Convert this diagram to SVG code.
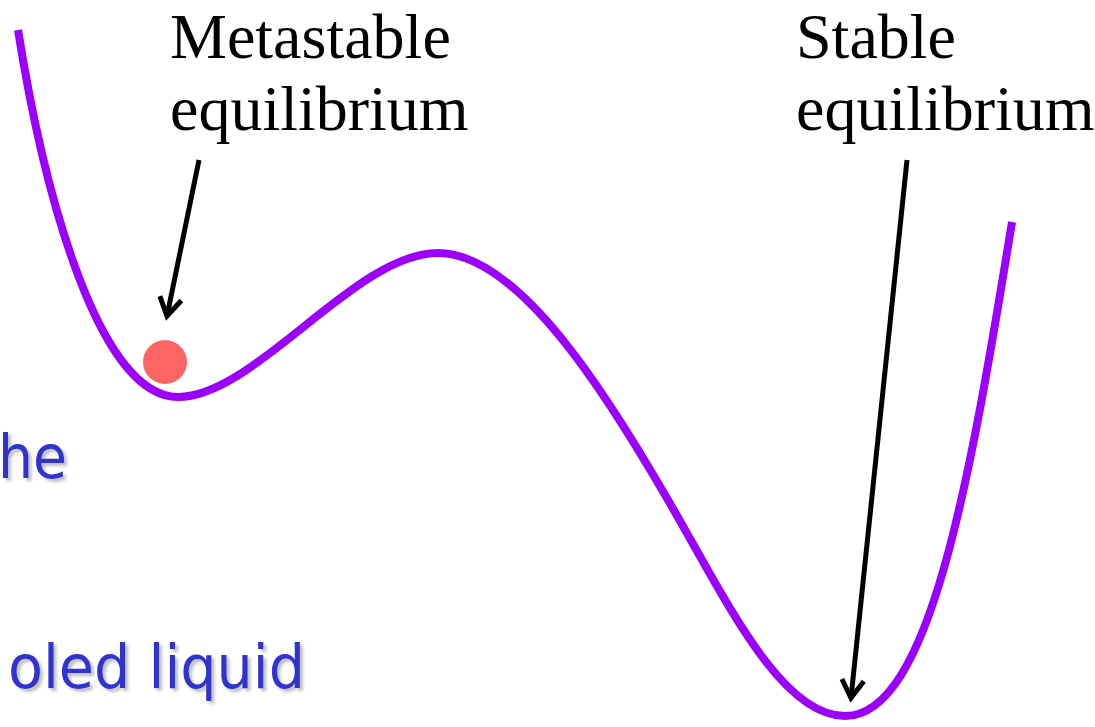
<svg xmlns="http://www.w3.org/2000/svg" width="1095" height="727" viewBox="0 0 1095 727">
  <defs>
    <marker id="chev" viewBox="-20 -12 22 24" refX="0" refY="0" markerWidth="22" markerHeight="24" markerUnits="userSpaceOnUse" orient="auto" overflow="visible">
      <path d="M-18,-11 L0,0 L-18,11" fill="none" stroke="#000" stroke-width="5" stroke-linejoin="miter" stroke-linecap="butt"/>
    </marker>
    <filter id="shadow" x="-10%" y="-20%" width="130%" height="150%">
      <feDropShadow dx="3" dy="3" stdDeviation="1.5" flood-color="#000" flood-opacity="0.25"/>
    </filter>
  </defs>
  <style>
    .label { font-family: "Liberation Serif", "Times New Roman", serif; font-size: 64px; fill: #000; }
    .blue { font-family: "DejaVu Sans", sans-serif; font-size: 60px; fill: #3333cc; filter: url(#shadow); }
    .curve { fill: none; stroke: #9b00ff; stroke-width: 8; stroke-linecap: butt; }
    .arrow { fill: none; stroke: #000; stroke-width: 5; marker-end: url(#chev); }
  </style>
  <rect width="1095" height="727" fill="#fff"/>

  <g id="curve">
    <path class="curve" d="M18,30 C45,200 100,397 178,397 C255,397 355,253 438,253 C520,253 610,400 668,500 C725,598 780,716 845,716 C930,716 970,480 1012,222"/>
  </g>

  <g id="ball">
    <circle cx="165" cy="362" r="22" fill="#ff6464"/>
  </g>

  <g id="label-metastable">
    <text class="label" x="170" y="58">Metastable</text>
    <text class="label" x="170" y="130">equilibrium</text>
  </g>

  <g id="label-stable">
    <text class="label" x="796" y="58">Stable</text>
    <text class="label" x="796" y="130">equilibrium</text>
  </g>

  <g id="side-text">
    <text class="blue" x="-2" y="478" textLength="69" lengthAdjust="spacingAndGlyphs">he</text>
    <text class="blue" x="8" y="688" textLength="297" lengthAdjust="spacingAndGlyphs">oled liquid</text>
  </g>

  <g id="connectors">
    <line class="arrow" x1="199" y1="160" x2="167" y2="316"/>
    <line class="arrow" x1="907" y1="160" x2="851" y2="698"/>
  </g>
</svg>
